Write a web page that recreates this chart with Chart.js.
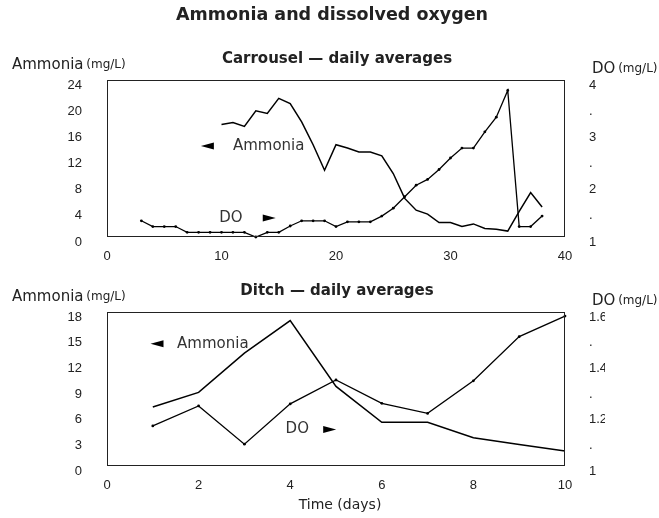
<!DOCTYPE html>
<html>
<head>
<meta charset="utf-8">
<script src="https://cdn.jsdelivr.net/npm/chart.js@4.4.1/dist/chart.umd.min.js"></script>
<style>
  body { margin: 0; background: #fff; }
  #wrap { position: relative; width: 659px; height: 518px; }
  #wrap canvas { position: absolute; left: 0; }
</style>
</head>
<body>
<div id="wrap">
  <canvas id="carrousel" width="659" height="270" style="top:0;width:659px;height:270px"></canvas>
  <canvas id="ditch" width="659" height="248" style="top:270px;width:659px;height:248px"></canvas>
</div>
<script>
// Carrousel – daily averages
const carrouselAmmoniaDays = [10, 11, 12, 13, 14, 15, 16, 17, 18, 19, 20, 21, 22, 23, 24, 25, 26, 27, 28, 29, 30, 31, 32, 33, 34, 35, 36, 37, 38];
const carrouselAmmonia = [17.2, 17.5, 16.9, 19.3, 18.9, 21.2, 20.4, 17.6, 14.1, 10.2, 14.1, 13.6, 13.0, 13.0, 12.4, 9.7, 5.9, 4.1, 3.5, 2.2, 2.2, 1.6, 2.0, 1.3, 1.2, 0.9, 3.9, 6.8, 4.6];
const carrouselDoDays = [3, 4, 5, 6, 7, 8, 9, 10, 11, 12, 13, 14, 15, 16, 17, 18, 19, 20, 21, 22, 23, 24, 25, 26, 27, 28, 29, 30, 31, 32, 33, 34, 35, 36, 37, 38];
const carrouselDo = [1.31, 1.20, 1.20, 1.20, 1.09, 1.09, 1.09, 1.09, 1.09, 1.09, 1.0, 1.09, 1.09, 1.21, 1.31, 1.31, 1.31, 1.20, 1.29, 1.29, 1.29, 1.40, 1.55, 1.77, 1.99, 2.10, 2.29, 2.51, 2.70, 2.70, 3.01, 3.29, 3.80, 1.20, 1.20, 1.40];
const carrouselDayTicks = [0, 10, 20, 30, 40];
const carrouselAmmoniaTicks = [0, 4, 8, 12, 16, 20, 24];
const carrouselDoTicks = ['1', '.', '2', '.', '3', '.', '4'];

// Ditch – daily averages
const ditchDays = [1, 2, 3, 4, 5, 6, 7, 8, 9, 10];
const ditchAmmonia = [6.9, 8.6, 13.2, 17.0, 9.3, 5.1, 5.1, 3.3, 2.5, 1.75];
const ditchDo = [1.156, 1.234, 1.085, 1.242, 1.335, 1.244, 1.205, 1.332, 1.504, 1.584];
const ditchDayTicks = [0, 2, 4, 6, 8, 10];
const ditchAmmoniaTicks = [0, 3, 6, 9, 12, 15, 18];
const ditchDoTicks = ['1', '.', '1.2', '.', '1.4', '.', '1.6'];

const TEXT = '#222';
const SANS = 'DejaVu Sans, sans-serif';
const TICK_FONT = { family: 'Liberation Sans, Arial, sans-serif', size: 13 };

const pts = (xs, ys) => xs.map((x, i) => ({ x: x, y: ys[i] }));

// frame, titles, axis captions and the arrow notes inside the plot
const decor = {
  id: 'decor',
  afterDraw(chart, args, o) {
    const ctx = chart.ctx, a = chart.chartArea;
    const sx = chart.scales.x, sy = chart.scales.y;
    ctx.save();
    ctx.strokeStyle = '#222';
    ctx.lineWidth = 1;
    ctx.strokeRect(Math.round(a.left) + 0.5, Math.round(a.top) + 0.5,
      Math.round(a.right - a.left) - 1, Math.round(a.bottom - a.top) - 1);

    ctx.fillStyle = TEXT;
    ctx.textBaseline = 'middle';
    if (o.main) {
      ctx.font = 'bold 17.5px ' + SANS;
      ctx.textAlign = 'center';
      ctx.fillText(o.main, 332, 15);
    }
    ctx.font = 'bold 15px ' + SANS;
    ctx.textAlign = 'center';
    ctx.fillText(o.subtitle, (a.left + a.right) / 2 + 1, a.top - 21);

    // axis captions: name in normal size, units smaller
    const caption = (x, y, name, unit) => {
      ctx.textAlign = 'left';
      ctx.font = '15px ' + SANS;
      ctx.fillText(name, x, y);
      const w = ctx.measureText(name + ' ').width;
      ctx.font = '12px ' + SANS;
      ctx.fillText(unit, x + w - 2, y);
    };
    caption(12, a.top - 15, 'Ammonia', '(mg/L)');
    caption(a.right + 27, a.top - 11, 'DO', '(mg/L)');

    if (o.xTitle) {
      ctx.font = '14px ' + SANS;
      ctx.textAlign = 'center';
      ctx.fillText(o.xTitle, 340, a.bottom + 39);
    }

    // series notes with their pointer triangles
    ctx.font = '15px ' + SANS;
    ctx.textAlign = 'left';
    o.notes.forEach(n => {
      const ty = sy.getPixelForValue(n.y);
      ctx.fillStyle = '#333';
      ctx.fillText(n.text, sx.getPixelForValue(n.textX), ty);
      const ax = sx.getPixelForValue(n.arrowX);
      ctx.fillStyle = '#000';
      ctx.beginPath();
      if (n.dir === 'left') {
        ctx.moveTo(ax, ty); ctx.lineTo(ax + 13, ty - 3.5); ctx.lineTo(ax + 13, ty + 3.5);
      } else {
        ctx.moveTo(ax + 13, ty); ctx.lineTo(ax, ty - 3.5); ctx.lineTo(ax, ty + 3.5);
      }
      ctx.closePath();
      ctx.fill();
    });
    ctx.restore();
  }
};

function makeChart(id, cfg) {
  return new Chart(document.getElementById(id), {
    type: 'line',
    data: {
      datasets: [
        {
          label: 'Ammonia',
          data: pts(cfg.ammDays, cfg.amm),
          yAxisID: 'y',
          borderColor: '#000',
          borderWidth: 1.5,
          pointRadius: 0,
          tension: 0,
          clip: 4
        },
        {
          label: 'DO',
          data: pts(cfg.doDays, cfg.do),
          yAxisID: 'y1',
          borderColor: '#000',
          borderWidth: 1.3,
          pointRadius: 1.4,
          pointBackgroundColor: '#000',
          pointBorderWidth: 0,
          tension: 0,
          clip: 4
        }
      ]
    },
    options: {
      responsive: false,
      animation: false,
      layout: { padding: cfg.padding },
      plugins: {
        legend: { display: false },
        tooltip: { enabled: false },
        decor: cfg.decor
      },
      scales: {
        x: {
          type: 'linear',
          min: cfg.dayTicks[0],
          max: cfg.dayTicks[cfg.dayTicks.length - 1],
          afterBuildTicks: s => { s.ticks = cfg.dayTicks.map(v => ({ value: v })); },
          ticks: { color: TEXT, font: TICK_FONT, padding: 12, maxRotation: 0, autoSkip: false },
          grid: { display: false, drawTicks: false },
          border: { display: false },
          afterFit: s => { s.height = 25; }
        },
        y: {
          position: 'left',
          min: cfg.ammTicks[0],
          max: cfg.ammTicks[cfg.ammTicks.length - 1],
          afterBuildTicks: s => { s.ticks = cfg.ammTicks.map(v => ({ value: v })); },
          ticks: { color: TEXT, font: TICK_FONT, padding: 25, labelOffset: 5 },
          grid: { display: false, drawTicks: false },
          border: { display: false },
          afterFit: s => { s.width = 40; }
        },
        y1: {
          position: 'right',
          min: cfg.doMin,
          max: cfg.doMax,
          afterBuildTicks: s => {
            const step = (cfg.doMax - cfg.doMin) / (cfg.doTicks.length - 1);
            s.ticks = cfg.doTicks.map((t, i) => ({ value: cfg.doMin + i * step }));
          },
          ticks: { color: TEXT, font: TICK_FONT, padding: 24, labelOffset: 5,
                   callback: (v, i) => cfg.doTicks[i] },
          grid: { display: false, drawTicks: false },
          border: { display: false },
          afterFit: s => { s.width = 40; }
        }
      }
    },
    plugins: [decor]
  });
}

makeChart('carrousel', {
  ammDays: carrouselAmmoniaDays, amm: carrouselAmmonia,
  doDays: carrouselDoDays, do: carrouselDo,
  dayTicks: carrouselDayTicks, ammTicks: carrouselAmmoniaTicks,
  doTicks: carrouselDoTicks, doMin: 1, doMax: 4,
  padding: { left: 67, right: 54, top: 80, bottom: 8 },
  decor: {
    main: 'Ammonia and dissolved oxygen',
    subtitle: 'Carrousel \u2014 daily averages',
    notes: [
      { text: 'Ammonia', textX: 11.0, arrowX: 8.2, y: 13.9, dir: 'left' },
      { text: 'DO', textX: 9.8, arrowX: 13.6, y: 2.9, dir: 'right' }
    ]
  }
});

makeChart('ditch', {
  ammDays: ditchDays, amm: ditchAmmonia,
  doDays: ditchDays, do: ditchDo,
  dayTicks: ditchDayTicks, ammTicks: ditchAmmoniaTicks,
  doTicks: ditchDoTicks, doMin: 1, doMax: 1.6,
  padding: { left: 67, right: 54, top: 42, bottom: 27 },
  decor: {
    subtitle: 'Ditch \u2014 daily averages',
    xTitle: 'Time (days)',
    notes: [
      { text: 'Ammonia', textX: 1.53, arrowX: 0.95, y: 14.3, dir: 'left' },
      { text: 'DO', textX: 3.9, arrowX: 4.72, y: 4.26, dir: 'right' }
    ]
  }
});
</script>
</body>
</html>
